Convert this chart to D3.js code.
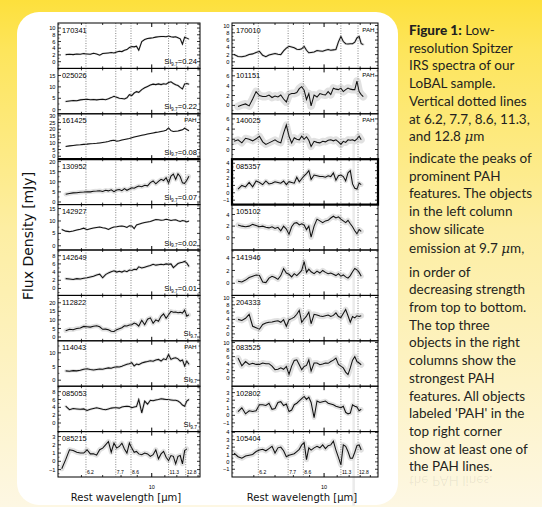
<!DOCTYPE html>
<html>
<head>
<meta charset="utf-8">
<script src="https://cdn.jsdelivr.net/npm/d3@7"></script>
<style>
html, body { margin: 0; padding: 0; background: #fff; }
svg { display: block; }
</style>
</head>
<body>
<svg id="fig" width="542" height="507"></svg>
<script>
// rest wavelength grid (micron) shared by all spectra
const wave = [5.2, 5.35, 5.5, 5.65, 5.8, 5.95, 6.1, 6.25, 6.4, 6.55, 6.7, 6.85, 7.0, 7.15, 7.3, 7.45, 7.6, 7.75, 7.9, 8.05,
    8.2, 8.35, 8.5, 8.65, 8.8, 8.95, 9.1, 9.3, 9.5, 9.7, 9.9, 10.1, 10.3, 10.5, 10.7, 10.9, 11.1, 11.3, 11.5, 11.7,
    11.9, 12.1, 12.3, 12.5, 12.7, 12.9, 13.1, 13.3];

// left column (silicate emission), flux density in mJy
const flux170341 = [null,2.1,2.2,2.1,2.3,2.2,2.4,2.3,2.2,2.5,2.3,1.9,2.4,2.5,2.6,2.7,2.6,2.9,3.1,3.0,3.4,3.6,4.2,4.5,4.4,4.6,3.4,6.0,6.6,6.9,7.0,7.1,7.3,7.4,7.5,7.5,7.4,7.6,7.4,7.3,7.4,7.1,6.8,5.2,7.3,7.0,6.7];
const flux025026 = [null,3.6,3.8,4.0,3.9,4.3,4.5,4.6,4.4,4.5,4.3,4.5,4.6,4.4,4.8,5.3,5.9,5.5,5.0,4.9,4.7,5.2,6.6,6.2,7.3,7.9,7.6,8.8,9.6,10.2,10.8,11.2,11.0,11.3,11.0,11.4,11.2,11.9,12.2,11.5,10.9,10.6,9.8,9.1,11.3,11.5,11.2];
const flux161425 = [null,7.3,7.7,8.0,8.3,8.5,8.8,9.0,9.3,9.4,9.6,9.9,10.2,10.5,11.0,11.6,11.8,11.2,11.5,12.0,12.4,12.8,13.2,13.7,14.2,14.6,15.0,15.5,16.0,16.5,16.9,17.3,17.7,18.0,18.4,18.8,19.3,21.0,19.0,18.4,18.6,18.8,19.2,19.6,20.8,19.8,18.9];
const flux130952 = [null,3.8,4.2,4.5,4.6,4.8,4.9,5.1,5.0,5.3,5.4,5.6,5.2,5.8,5.5,6.0,5.1,5.9,6.2,5.6,6.6,5.8,6.4,7.0,6.8,7.4,7.9,7.6,8.3,8.0,9.6,10.4,9.0,10.2,11.2,10.6,12.0,9.4,12.8,13.8,11.2,14.0,12.5,9.5,9.2,10.8,12.8];
const flux142927 = [6.6,5.9,5.7,6.0,6.4,6.7,7.1,6.5,6.9,7.2,7.4,7.6,7.3,7.1,6.6,7.2,7.6,7.7,7.9,8.0,7.8,7.4,8.1,8.0,6.9,8.4,8.7,9.1,9.4,9.6,9.8,10.2,10.6,10.5,10.3,10.4,10.7,10.5,10.2,10.4,10.5,10.1,9.8,10.2,10.0,9.6,10.0];
const flux142649 = [null,2.4,2.3,2.2,2.4,2.3,2.5,2.6,2.8,3.0,3.3,3.5,2.6,3.4,3.8,4.1,4.3,4.0,4.2,4.0,4.3,4.1,4.5,4.4,4.7,4.6,5.3,5.0,5.2,5.4,5.6,5.9,5.7,5.8,5.9,5.8,6.0,5.9,6.0,5.1,5.6,6.1,6.3,6.4,6.6,6.2,5.4];
const flux112822 = [null,3.7,4.5,4.3,5.0,5.3,6.2,6.0,5.8,6.3,6.6,6.0,4.5,4.6,4.2,3.4,3.2,4.2,4.8,5.4,6.6,6.4,7.0,7.2,8.2,7.6,6.4,9.8,7.2,10.4,11.2,8.0,10.0,9.2,12.1,13.5,11.0,13.0,15.0,14.5,14.6,14.2,14.4,14.0,15.7,12.2,13.0];
const flux114043 = [null,3.4,3.3,3.5,3.4,3.6,4.0,4.2,3.9,3.7,3.9,4.1,4.0,4.3,4.5,4.4,4.7,4.9,4.8,5.1,5.5,5.8,6.0,6.4,5.2,5.9,5.7,6.3,6.6,6.8,7.1,6.9,7.4,7.6,7.0,7.8,7.5,9.4,7.6,8.0,8.2,7.8,7.0,7.4,5.2,7.0,5.8];
const flux085053 = [null,4.3,3.4,3.7,3.6,3.5,3.6,3.2,3.5,3.7,3.9,3.7,3.5,3.4,3.6,3.8,3.9,3.9,3.8,4.1,4.2,4.3,4.2,3.9,4.1,4.2,6.0,2.6,5.6,4.8,5.8,5.7,5.9,6.0,6.2,6.1,6.0,6.0,5.9,5.8,5.8,5.6,5.2,4.6,4.3,5.6,6.0];
const flux085215 = [-0.9,0.2,1.4,1.3,1.1,1.0,1.0,1.4,0.9,0.9,0.75,1.4,1.6,2.0,2.4,1.1,2.2,1.6,1.8,2.2,1.5,1.0,2.2,1.6,1.1,1.2,0.9,0.8,1.0,0.9,0.6,0.8,1.4,0.3,0.9,1.2,0.5,0.1,0.7,0.6,-0.3,0.6,0.7,-0.3,1.3,1.5,null];

// right column (PAH / others)
const flux170010 = [2.0,1.5,1.4,1.6,2.0,2.2,2.6,2.9,1.8,1.4,1.9,2.1,2.3,2.1,2.0,3.0,3.8,4.3,4.1,3.9,3.5,3.4,3.6,4.3,3.2,2.5,2.6,2.7,3.1,3.0,2.9,3.2,3.4,3.2,3.3,3.4,5.5,7.0,5.6,5.0,4.9,5.0,5.0,5.4,6.6,7.0,5.0,4.8];
const flux101151 = [null,-0.2,0.1,0.3,-0.1,1.3,2.8,2.0,1.8,1.8,2.1,1.6,1.9,1.7,2.1,1.3,0.7,2.2,2.4,2.4,2.6,3.4,3.8,3.1,1.2,2.4,-0.1,2.1,1.7,2.4,2.2,2.1,2.8,2.2,3.5,3.3,3.2,3.5,2.8,3.2,3.5,3.3,3.2,3.2,4.9,2.8,2.2,1.8];
const flux140025 = [1.6,1.9,1.3,2.2,2.0,1.7,2.1,2.6,1.5,1.0,1.3,1.6,1.9,1.5,1.3,3.2,4.8,2.6,1.3,2.3,2.0,1.9,2.6,2.0,2.5,1.8,0.6,1.6,1.4,1.3,1.6,1.5,1.8,1.9,1.7,1.9,1.5,1.0,1.6,1.4,1.9,1.8,1.9,1.7,2.1,2.6,1.9,null];
const flux085357 = [null,0.5,1.0,0.8,1.4,0.8,1.6,1.4,1.1,1.6,1.2,1.3,1.5,1.4,1.3,1.6,1.1,1.5,1.4,1.3,2.1,1.5,1.9,2.3,2.6,3.0,1.8,2.4,2.3,2.2,2.2,2.1,2.3,2.2,2.7,1.7,2.3,2.4,2.2,1.6,2.7,3.0,1.2,0.6,0.5,1.3,1.1,null];
const flux105102 = [null,2.2,2.0,1.9,2.0,2.3,2.1,1.9,2.0,1.8,1.7,1.9,1.6,1.8,1.2,2.0,1.5,0.6,1.9,2.5,2.6,2.2,2.4,2.2,1.4,2.0,0.1,2.0,3.2,2.9,2.6,2.9,3.0,3.4,3.7,3.4,3.6,3.2,2.9,2.6,3.0,2.4,1.9,1.2,0.7,1.4,1.1,null];
const flux141946 = [null,0.3,0.2,0.5,0.9,1.1,1.3,1.2,0.2,0.1,0.8,1.1,0.9,0.6,1.2,2.3,1.6,1.4,1.0,1.5,1.2,1.6,2.0,3.4,1.7,2.2,1.8,1.5,1.9,1.6,2.0,1.7,1.5,1.6,1.4,1.2,1.5,1.1,1.3,1.0,0.8,1.2,1.8,2.3,2.1,1.7,1.1,null];
const flux204333 = [null,4.0,3.7,4.3,5.4,2.1,1.7,1.3,2.6,3.0,3.2,3.3,3.5,3.6,3.2,3.9,2.1,3.9,4.2,4.6,5.4,6.5,3.2,4.1,4.9,6.0,2.8,5.4,5.2,4.9,4.8,5.0,5.2,4.8,5.1,5.8,4.8,4.5,5.6,6.7,5.0,3.2,4.8,4.4,5.0,4.8,5.0,null];
const flux083525 = [null,5.6,3.4,4.6,3.8,4.1,3.8,3.8,4.2,4.0,4.0,3.3,2.3,2.4,2.8,2.4,3.2,1.0,3.3,4.9,5.1,3.7,2.3,3.2,3.5,5.1,1.9,4.2,4.2,3.7,3.9,4.2,4.1,4.6,5.0,5.6,3.8,3.3,2.8,1.6,0.9,2.8,5.0,6.0,4.6,4.2,3.7,null];
const flux102802 = [null,0.5,1.0,0.2,0.6,0.5,0.6,1.4,1.4,1.3,1.6,0.8,0.9,1.7,1.8,1.3,1.5,0.5,0.7,1.4,1.6,1.9,2.2,2.5,2.1,2.4,1.7,-0.3,1.9,1.7,1.8,1.9,1.6,1.5,1.4,1.2,1.1,1.0,1.2,0.4,0.2,0.3,1.4,1.2,1.1,0.6,0.8,null];
const flux105404 = [1.2,0.7,0.5,0.8,0.9,1.0,1.4,1.6,1.7,1.5,1.8,2.1,1.2,1.9,2.0,1.5,0.7,0.9,1.0,1.1,1.4,1.7,2.3,2.6,0.3,1.9,1.6,1.9,2.1,1.9,2.3,1.8,2.2,2.3,2.8,1.6,0.6,-0.4,2.3,2.1,1.4,0.5,0.5,1.3,2.2,2.3,1.6,null];

const leftNames = ["170341", "025026", "161425", "130952", "142927", "142649", "112822", "114043", "085053", "085215"];
const rightNames = ["170010", "101151", "140025", "085357", "105102", "141946", "204333", "083525", "102802", "105404"];
const leftFlux = [flux170341, flux025026, flux161425, flux130952, flux142927, flux142649, flux112822, flux114043, flux085053, flux085215];
const rightFlux = [flux170010, flux101151, flux140025, flux085357, flux105102, flux141946, flux204333, flux083525, flux102802, flux105404];

// 1-sigma uncertainty (mJy) used for the grey band
const leftErr = [0.3, 0.5, 0.6, 1.1, 0.4, 0.35, 1.3, 0.55, 0.35, 0.3];
const rightErr = [0.35, 0.8, 0.7, 0.3, 0.45, 0.4, 0.8, 0.85, 0.3, 0.35];

const leftYDomain = [[-2, 11.5], [-1.8, 18.1], [-2.2, 31.5], [-1.3, 21.2], [-1.7, 16.6], [-1.7, 9.4], [-2.2, 24.3], [-2.2, 14.4], [-2.2, 9.4], [-1.9, 3.6]];
const rightYDomain = [[-1.8, 10.7], [-1.7, 7.5], [-1.9, 7.0], [-1.6, 4.55], [-2.1, 5.7], [-1.9, 5.2], [-1.9, 10.6], [-2.4, 10.5], [-2.15, 3.85], [-2.05, 4.1]];
const leftYTicks = [[0, 2, 4, 6, 8, 10], [0, 5, 10, 15], [0, 5, 10, 15, 20, 25, 30], [0, 5, 10, 15, 20], [0, 5, 10, 15], [0, 2, 4, 6, 8], [0, 5, 10, 15, 20], [0, 5, 10], [0, 2, 4, 6, 8], [-1, 0, 1, 2, 3]];
const rightYTicks = [[0, 2, 4, 6, 8, 10], [0, 2, 4, 6], [0, 2, 4, 6], [-1, 0, 1, 2, 3, 4], [0, 2, 4], [0, 2, 4], [0, 2, 4, 6, 8, 10], [0, 2, 4, 6, 8, 10], [-1, 0, 1, 2, 3], [-1, 0, 1, 2, 3, 4]];

// silicate strength labels (null = no label) and PAH flags
const leftSi = ["=0.24", "=0.22", "=0.08", "=0.07", "=0.02", "=0.01", "", "", "", null];
const rightSi = [null, null, null, null, null, null, null, null, null, null];
const leftPah = [false, false, true, false, false, false, false, true, false, false];
const rightPah = [true, true, true, false, false, false, false, false, false, false];

const pahLines = [6.2, 7.7, 8.6, 11.3, 12.8];
const pahLabels = ["6.2", "7.7", "8.6", "11.3", "12.8"];
const minorWaves = [6, 7, 8, 9, 11, 12, 13, 14];

const captionLines = [
    [["Figure 1:", "b"], [" Low-", ""]],
    [["resolution Spitzer", ""]],
    [["IRS spectra of our", ""]],
    [["LoBAL sample.", ""]],
    [["Vertical dotted lines", ""]],
    [["at 6.2, 7.7, 8.6, 11.3,", ""]],
    [["and 12.8 ", ""], ["\u03bc", "i"], ["m", ""]],
    [["indicate the peaks of", ""]],
    [["prominent PAH", ""]],
    [["features. The objects", ""]],
    [["in the left column", ""]],
    [["show silicate", ""]],
    [["emission at 9.7 ", ""], ["\u03bc", "i"], ["m,", ""]],
    [["in order of", ""]],
    [["decreasing strength", ""]],
    [["from top to bottom.", ""]],
    [["The top three", ""]],
    [["objects in the right", ""]],
    [["columns show the", ""]],
    [["strongest PAH", ""]],
    [["features. All objects", ""]],
    [["labeled 'PAH' in the", ""]],
    [["top right corner", ""]],
    [["show at least one of", ""]],
    [["the PAH lines.", ""]]
];

const W = 542, H = 507;
const plotTop = 23, panelH = 45.4;
const numFont = "'Liberation Sans', Arial, sans-serif";
const svg = d3.select("#fig");

const columns = [
    {x0: 58, x1: 200, xDomain: [5.06, 14.2], names: leftNames, flux: leftFlux, err: leftErr,
        yDomain: leftYDomain, yTicks: leftYTicks, si: leftSi, pah: leftPah, thickTop: [3], thickBox: []},
    {x0: 232, x1: 378, xDomain: [5.12, 14.8], names: rightNames, flux: rightFlux, err: rightErr,
        yDomain: rightYDomain, yTicks: rightYTicks, si: rightSi, pah: rightPah, thickTop: [], thickBox: [3]}
];

drawBackground();
columns.forEach((col, c) => drawColumn(col, c));
drawAxisTitles();
drawCaption();

function drawBackground() {
    const defs = svg.append("defs");
    const grad = defs.append("linearGradient")
        .attr("id", "bgGrad").attr("x1", 0).attr("y1", 0).attr("x2", 0).attr("y2", 1);
    grad.append("stop").attr("offset", "0%").attr("stop-color", "#fde03c");
    grad.append("stop").attr("offset", "10%").attr("stop-color", "#fde55c");
    grad.append("stop").attr("offset", "45%").attr("stop-color", "#fdeea2");
    grad.append("stop").attr("offset", "100%").attr("stop-color", "#fdf7e3");

    svg.append("rect").attr("width", W).attr("height", H).attr("fill", "url(#bgGrad)");
    svg.append("rect")
        .attr("x", 17).attr("y", 12)
        .attr("width", 381).attr("height", 493)
        .attr("rx", 22).attr("ry", 22)
        .attr("fill", "#ffffff");
}

function drawColumn(col, c) {
    const x = d3.scaleLog().domain(col.xDomain).range([col.x0, col.x1]);
    const g = svg.append("g").attr("class", "column");

    // long error spike that runs through the lower right panels
    if (c === 1) {
        g.append("line")
            .attr("x1", x(12.4)).attr("x2", x(12.4))
            .attr("y1", 140).attr("y2", 506)
            .attr("stroke", "#ebebeb").attr("stroke-width", 2.5);
    }

    col.names.forEach((name, i) => {
        const top = plotTop + i * panelH, bottom = top + panelH;
        const y = d3.scaleLinear().domain(col.yDomain[i]).range([bottom, top]);
        const pg = g.append("g").attr("class", "panel");
        const clipId = `clip${c}_${i}`;
        svg.select("defs").append("clipPath").attr("id", clipId)
            .append("rect").attr("x", col.x0).attr("y", top)
            .attr("width", col.x1 - col.x0).attr("height", panelH);

        const pts = wave.map((w, j) => ({w, f: col.flux[i][j]}))
            .filter(p => p.f !== null && p.f !== undefined);
        const line = d3.line().x(d => x(d.w)).y(d => y(d.f));
        const pxPerUnit = panelH / (col.yDomain[i][1] - col.yDomain[i][0]);

        const sg = pg.append("g").attr("clip-path", `url(#${clipId})`);
        sg.append("path").datum(pts)
            .attr("d", line)
            .attr("fill", "none")
            .attr("stroke", "#e1e1e1")
            .attr("stroke-linejoin", "round")
            .attr("stroke-linecap", "round")
            .attr("stroke-width", Math.max(1.6, 2 * col.err[i] * pxPerUnit));

        // PAH dotted lines
        pg.selectAll(".pahline").data(pahLines).enter().append("line")
            .attr("x1", d => x(d)).attr("x2", d => x(d))
            .attr("y1", top).attr("y2", bottom)
            .attr("stroke", "#666").attr("stroke-width", 0.8)
            .attr("stroke-dasharray", "1,1.5");

        sg.append("path").datum(pts)
            .attr("d", line)
            .attr("fill", "none")
            .attr("stroke", "#111")
            .attr("stroke-width", 1.05);

        // frame
        const thick = col.thickBox.includes(i);
        pg.append("rect")
            .attr("x", col.x0).attr("y", top)
            .attr("width", col.x1 - col.x0).attr("height", panelH)
            .attr("fill", "none").attr("stroke", "#000")
            .attr("stroke-width", thick ? 2.2 : 1);
        if (col.thickTop.includes(i)) {
            pg.append("line")
                .attr("x1", col.x0).attr("x2", col.x1)
                .attr("y1", top).attr("y2", top)
                .attr("stroke", "#000").attr("stroke-width", 2.2);
        }

        drawXTicks(pg, x, top, bottom);
        drawYTicks(pg, y, col, i);

        // object name
        pg.append("text")
            .attr("x", col.x0 + 4).attr("y", top + 9.5)
            .attr("font-family", numFont).attr("font-size", 7.4)
            .text(name);

        if (col.pah[i]) {
            pg.append("text")
                .attr("x", col.x1 - 3.5).attr("y", top + 8.5)
                .attr("text-anchor", "end")
                .attr("font-family", numFont).attr("font-size", 6.2)
                .text("PAH");
        }

        if (col.si[i] !== null) {
            const t = pg.append("text")
                .attr("x", col.x1 - 3).attr("y", bottom - 4.5)
                .attr("text-anchor", "end")
                .attr("font-family", numFont).attr("font-size", 7.6);
            t.append("tspan").text("Si");
            t.append("tspan").attr("font-size", 4.8).attr("dy", 1.6).text("9.7");
            if (col.si[i]) t.append("tspan").attr("dy", -1.6).text(col.si[i]);
        }

        // bottom panel: PAH wavelength labels and "10"
        if (i === col.names.length - 1) {
            pg.selectAll(".pahlab").data(pahLines).enter().append("text")
                .attr("x", d => x(d) + 1).attr("y", bottom - 3)
                .attr("font-family", numFont).attr("font-size", 5)
                .text((d, k) => pahLabels[k]);
            pg.append("text")
                .attr("x", x(10)).attr("y", bottom + 12)
                .attr("text-anchor", "middle")
                .attr("font-family", numFont).attr("font-size", 5.5)
                .text("10");
        }
    });
}

function drawXTicks(pg, x, top, bottom) {
    const [lo, hi] = x.domain();
    const minors = minorWaves.filter(w => w > lo && w < hi);
    [[top, 1], [bottom, -1]].forEach(([yy, dir]) => {
        pg.selectAll(null).data(minors).enter().append("line")
            .attr("x1", d => x(d)).attr("x2", d => x(d))
            .attr("y1", yy).attr("y2", yy + dir * 2)
            .attr("stroke", "#000").attr("stroke-width", 0.8);
        pg.append("line")
            .attr("x1", x(10)).attr("x2", x(10))
            .attr("y1", yy).attr("y2", yy + dir * 4)
            .attr("stroke", "#000").attr("stroke-width", 1);
    });
}

function drawYTicks(pg, y, col, i) {
    const ticks = col.yTicks[i];
    const [d0, d1] = col.yDomain[i];
    const step = ticks[1] - ticks[0];
    const minors = d3.range(ticks[0] - step / 2, d1, step).filter(v => v > d0 && v < d1);
    [[col.x0, 1], [col.x1, -1]].forEach(([xx, dir]) => {
        pg.selectAll(null).data(ticks).enter().append("line")
            .attr("x1", xx).attr("x2", xx + dir * 3)
            .attr("y1", d => y(d)).attr("y2", d => y(d))
            .attr("stroke", "#000").attr("stroke-width", 0.8);
        pg.selectAll(null).data(minors).enter().append("line")
            .attr("x1", xx).attr("x2", xx + dir * 1.5)
            .attr("y1", d => y(d)).attr("y2", d => y(d))
            .attr("stroke", "#000").attr("stroke-width", 0.6);
    });
    pg.selectAll(null).data(ticks).enter().append("text")
        .attr("x", col.x0 - 2.5).attr("y", d => y(d))
        .attr("dy", "0.36em")
        .attr("text-anchor", "end")
        .attr("font-family", numFont).attr("font-size", 5.7)
        .text(d => d < 0 ? "\u2212" + Math.abs(d) : d);
}

function drawAxisTitles() {
    columns.forEach(col => {
        svg.append("text")
            .attr("x", (col.x0 + col.x1) / 2 - 3).attr("y", 501)
            .attr("text-anchor", "middle")
            .attr("font-family", "'DejaVu Sans', sans-serif").attr("font-size", 10)
            .attr("fill", "#111")
            .text("Rest wavelength [\u03bcm]");
    });
    svg.append("text")
        .attr("transform", "translate(33,236) rotate(-90)")
        .attr("text-anchor", "middle")
        .attr("font-family", "'DejaVu Sans', sans-serif").attr("font-size", 14)
        .attr("fill", "#111")
        .text("Flux Density [mJy]");
}

function drawCaption() {
    const cg = svg.append("g").attr("class", "caption")
        .attr("font-family", "Lato, 'Open Sans', sans-serif")
        .attr("font-size", 13.5)
        .attr("fill", "#231f20");
    const lineY = k => 35 + 17.7 * k + (k >= 7 ? 4 : 0) + (k >= 12 ? 1.5 : 0) + (k >= 13 ? 6 : 0);

    captionLines.forEach((segs, k) => {
        const t = cg.append("text").attr("x", 409).attr("y", lineY(k));
        segs.forEach(([txt, style]) => {
            const s = t.append("tspan").text(txt);
            if (style === "b") s.attr("font-weight", 900);
            if (style === "i") s.attr("font-style", "italic").attr("font-family", "'DejaVu Serif', serif");
        });
    });

    // faint reflection under the last line
    const last = captionLines.length - 1;
    const yr = lineY(last) + 2.5;
    cg.append("text")
        .attr("transform", `translate(0, ${2 * yr}) scale(1,-1)`)
        .attr("x", 409).attr("y", lineY(last))
        .attr("fill-opacity", 0.08)
        .text(captionLines[last][0][0]);
}
</script>
</body>
</html>
